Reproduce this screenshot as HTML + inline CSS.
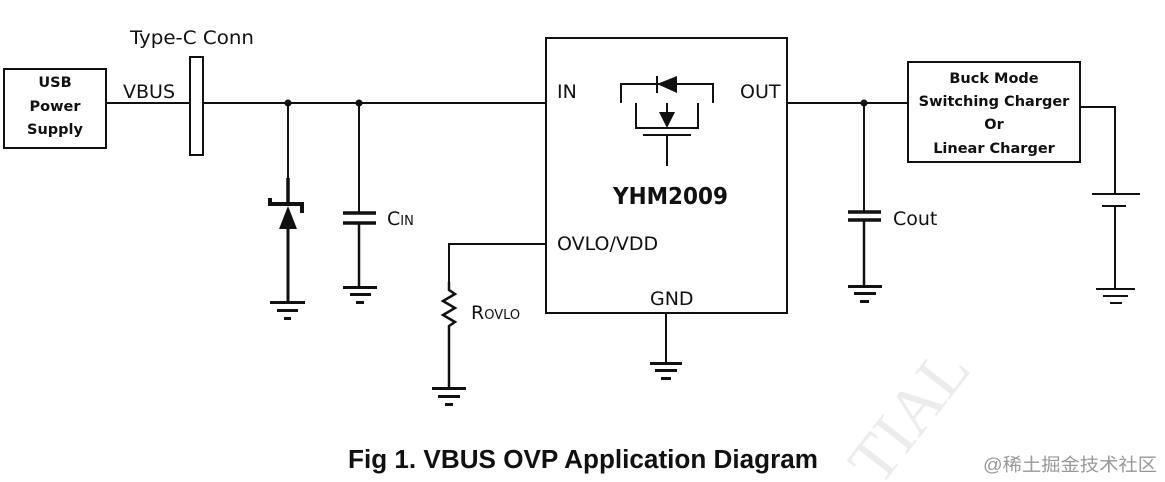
<!DOCTYPE html>
<html><head><meta charset="utf-8"><style>
html,body{margin:0;padding:0;background:#fff;width:1165px;height:482px;overflow:hidden}
svg{display:block}
.t{font-family:"DejaVu Sans","Liberation Sans",sans-serif;fill:#111}
.b{font-family:"DejaVu Sans","Liberation Sans",sans-serif;font-weight:bold;fill:#111}
</style></head><body>
<svg width="1165" height="482" viewBox="0 0 1165 482" xmlns="http://www.w3.org/2000/svg">
<text x="880" y="488" font-family="Liberation Serif,serif" font-size="66" fill="#ececec" transform="rotate(-52 880 488)">TIAL</text>
<g stroke="#111" stroke-width="2" fill="none">
<rect x="4" y="69" width="102" height="79"/>
<line x1="106" y1="103" x2="546" y2="103"/>
<rect x="190" y="57" width="13" height="98" fill="#fff"/>
<line x1="288" y1="103" x2="288" y2="178"/>
<line x1="288" y1="178" x2="288" y2="202" stroke-width="3.5"/>
<line x1="288" y1="229" x2="288" y2="302" stroke-width="3"/>
<line x1="359" y1="103" x2="359" y2="213"/>
<line x1="359" y1="223" x2="359" y2="287" stroke-width="2.5"/>
<line x1="343" y1="213" x2="376" y2="213" stroke-width="3.5"/>
<line x1="343" y1="223" x2="376" y2="223" stroke-width="3.5"/>
<rect x="546" y="38" width="241" height="275"/>
<polyline points="621,103 621,84 713,84 713,103"/>
<line x1="657" y1="76" x2="657" y2="93"/>
<polyline points="636,103 636,128 698,128 698,103"/>
<line x1="667" y1="103" x2="667" y2="112"/>
<line x1="643" y1="135" x2="691" y2="135"/>
<line x1="667" y1="135" x2="667" y2="166"/>
<line x1="666" y1="313" x2="666" y2="363"/>
<polyline points="546,244 449,244 449,282"/>
<polyline points="449,282 449,290 455,294 443,301 455,308 443,315 455,322 449,326 449,388" stroke-width="2.5"/>
<line x1="787" y1="103" x2="908" y2="103"/>
<line x1="864" y1="103" x2="864" y2="212"/>
<line x1="864" y1="220" x2="864" y2="286" stroke-width="2.5"/>
<line x1="848" y1="212" x2="881" y2="212" stroke-width="3.5"/>
<line x1="848" y1="220" x2="881" y2="220" stroke-width="3.5"/>
<rect x="908" y="62" width="172" height="100"/>
<polyline points="1080,107 1115,107 1115,194"/>
<line x1="1092" y1="194" x2="1140" y2="194"/>
<line x1="1102" y1="206" x2="1126" y2="206"/>
<line x1="1115" y1="206" x2="1115" y2="289"/>
</g>
<g fill="#111">
<circle cx="288" cy="103" r="3.5"/><circle cx="359" cy="103" r="3.5"/><circle cx="864" cy="103" r="3.5"/>
<rect x="268" y="202" width="36" height="4"/>
<rect x="268" y="198" width="4" height="8"/>
<rect x="300" y="202" width="4" height="11"/>
<polygon points="288,206 279,229 297,229"/>
<polygon points="657,84 677,76 677,93"/>
<polygon points="659,112 675,112 667,128"/>
<rect x="270" y="301" width="35" height="3"/><rect x="277" y="309" width="21" height="3"/><rect x="284" y="317" width="7" height="3"/>
<rect x="343" y="286" width="34" height="3"/><rect x="350" y="293" width="21" height="3"/><rect x="356" y="301" width="8" height="3"/>
<rect x="650" y="362" width="32" height="3"/><rect x="655" y="369" width="22" height="3"/><rect x="661" y="377" width="10" height="3"/>
<rect x="432" y="387" width="34" height="3"/><rect x="438" y="395" width="22" height="3"/><rect x="445" y="403" width="8" height="3"/>
<rect x="848" y="285" width="34" height="3"/><rect x="854" y="292" width="22" height="3"/><rect x="860" y="300" width="9" height="3"/>
<rect x="1096" y="288" width="39" height="2"/><rect x="1103" y="295" width="25" height="2"/><rect x="1110" y="302" width="12" height="2"/>
</g>
<text class="t" x="130" y="44" font-size="19" textLength="124" lengthAdjust="spacingAndGlyphs">Type-C Conn</text>
<text class="t" x="123" y="98" font-size="19">VBUS</text>
<text class="b" x="55" y="87" font-size="14.5" text-anchor="middle">USB</text>
<text class="b" x="55" y="111" font-size="14.5" text-anchor="middle">Power</text>
<text class="b" x="55" y="134" font-size="14.5" text-anchor="middle">Supply</text>
<text class="t" x="387" y="225" font-size="19">C<tspan font-size="13">IN</tspan></text>
<text class="t" x="557" y="98" font-size="19">IN</text>
<text class="t" x="740" y="98" font-size="19">OUT</text>
<text class="b" x="613" y="204" font-size="23" textLength="115" lengthAdjust="spacingAndGlyphs">YHM2009</text>
<text class="t" x="557" y="250" font-size="19">OVLO/VDD</text>
<text class="t" x="650" y="305" font-size="19">GND</text>
<text class="t" x="471" y="319" font-size="19">R<tspan font-size="13">OVLO</tspan></text>
<text class="t" x="893" y="225" font-size="19">Cout</text>
<text class="b" x="994" y="83" font-size="14.5" text-anchor="middle">Buck Mode</text>
<text class="b" x="994" y="106" font-size="14.5" text-anchor="middle">Switching Charger</text>
<text class="b" x="994" y="129" font-size="14.5" text-anchor="middle">Or</text>
<text class="b" x="994" y="153" font-size="14.5" text-anchor="middle">Linear Charger</text>
<text x="348" y="468" font-family="Liberation Sans,sans-serif" font-weight="bold" font-size="25.5" fill="#111" textLength="470" lengthAdjust="spacingAndGlyphs">Fig 1. VBUS OVP Application Diagram</text>
<text x="983" y="471" font-family="Liberation Sans,'Noto Sans CJK SC',sans-serif" font-size="18" fill="#999" textLength="174" lengthAdjust="spacingAndGlyphs">@稀土掘金技术社区</text>
</svg>
</body></html>
